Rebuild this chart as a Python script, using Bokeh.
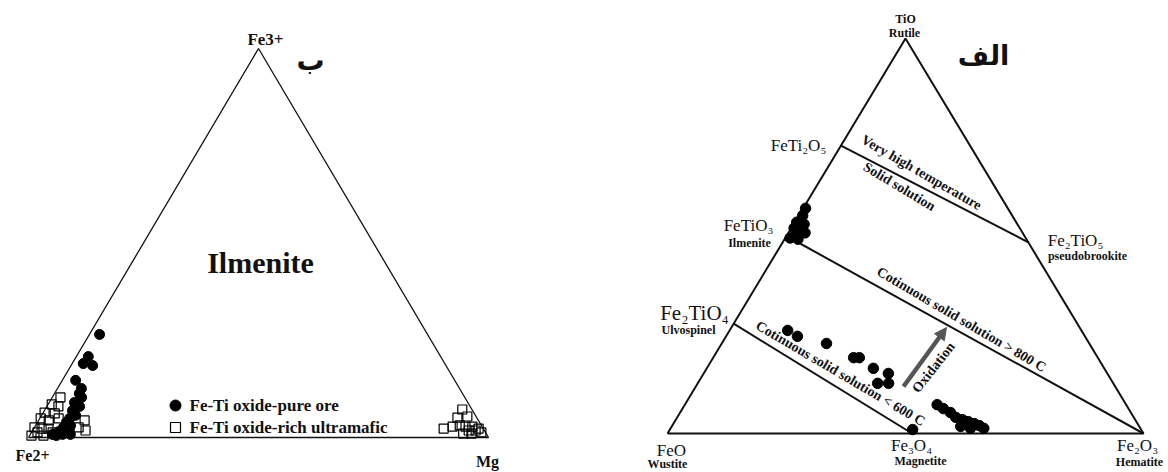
from bokeh.plotting import figure
from bokeh.models import Range1d, Label, Arrow, NormalHead
from bokeh.embed import file_html
from bokeh.resources import INLINE

# ---------------- DATA ----------------
# Left diagram: Fe2+ (left) - Fe3+ (top) - Mg (right); fractions of Fe3+ and Mg
ore_fe3 = [0.265, 0.208, 0.190, 0.185, 0.147, 0.126, 0.113, 0.103, 0.090, 0.080, 0.069,
           0.057, 0.049, 0.039, 0.031, 0.026, 0.018, 0.015, 0.008, 0.008, 0.005, 0.008]
ore_mg = [0.022, 0.026, 0.024, 0.047, 0.029, 0.052, 0.054, 0.064, 0.055, 0.071, 0.061,
          0.074, 0.065, 0.063, 0.076, 0.063, 0.076, 0.058, 0.070, 0.048, 0.058, 0.087]
ultra_fe3 = [0.103, 0.085, 0.080, 0.064, 0.062, 0.049, 0.044, 0.049, 0.044, 0.018, 0.026,
             0.026, 0.023, 0.005, 0.005, 0.013, 0.013, 0.023,
             0.072, 0.051, 0.054, 0.023, 0.028, 0.031, 0.028, 0.028, 0.023, 0.010, 0.010,
             0.013, 0.018, 0.018]
ultra_mg = [0.018, 0.008, 0.025, 0.003, 0.026, 0.002, 0.022, 0.041, 0.100, 0.115, 0.096,
            0.000, 0.017, 0.004, 0.030, 0.013, 0.046, 0.032,
            0.907, 0.907, 0.927, 0.891, 0.908, 0.922, 0.936, 0.951, 0.967, 0.940, 0.958,
            0.978, 0.963, 0.948]

# Right diagram: FeO (left) - TiO (top) - Fe2O3 (right); fractions of TiO and Fe2O3
sample_tio = [0.570, 0.552, 0.535, 0.530, 0.520, 0.510, 0.508, 0.495, 0.492,
              0.261, 0.246, 0.228, 0.192, 0.192, 0.165, 0.152, 0.127, 0.127,
              0.073, 0.063, 0.053, 0.041, 0.035, 0.030, 0.025, 0.020, 0.013, 0.018,
              0.013, 0.010]
sample_fe2o3 = [0.005, 0.008, 0.004, 0.022, 0.006, 0.018, 0.035, 0.010, 0.028,
                0.122, 0.150, 0.220, 0.295, 0.307, 0.350, 0.388, 0.378, 0.401,
                0.530, 0.548, 0.568, 0.585, 0.602, 0.617, 0.632, 0.645, 0.658, 0.607,
                0.630, 0.510]

# phases on the right diagram (TiO, Fe2O3)
phase_names = ["FeTi2O5", "FeTiO3", "Fe2TiO4", "Fe3O4", "Fe2TiO5", "Fe2O3"]
phase_tio = [0.729, 0.500, 0.278, 0.000, 0.484, 0.000]
phase_fe2o3 = [0.000, 0.000, 0.000, 0.514, 0.516, 1.000]
tie_lines = [("FeTi2O5", "Fe2TiO5"), ("FeTiO3", "Fe2O3"), ("Fe2TiO4", "Fe3O4")]

legend_labels = ["Fe-Ti oxide-pure ore", "Fe-Ti oxide-rich ultramafic"]

# ---------------- LAYOUT ----------------
W, H = 1168, 472


def D(X, Y):
    """picture pixel (from top-left) -> data coords"""
    return X, H - Y


LEFT_TRI = (D(258, 48), D(28, 437), D(488, 437))     # top, left, right
RIGHT_TRI = (D(905, 38), D(667, 433), D(1143, 433))


def tern(top, right, tri):
    (tx, ty), (lx, ly), (rx, ry) = tri
    left = 1 - top - right
    return top * tx + right * rx + left * lx, top * ty + right * ry + left * ly


def tern_many(tops, rights, tri):
    pts = [tern(a, b, tri) for a, b in zip(tops, rights)]
    return [q[0] for q in pts], [q[1] for q in pts]


p = figure(width=W, height=H, x_range=Range1d(0, W), y_range=Range1d(0, H),
           output_backend="svg", toolbar_location=None, min_border=0,
           x_axis_type=None, y_axis_type=None)
p.grid.visible = False
p.outline_line_color = None
p.background_fill_color = "white"

SERIF = "Liberation Serif"

# triangles
for tri, lw in ((LEFT_TRI, 1.3), (RIGHT_TRI, 2.0)):
    xs = [tri[1][0], tri[0][0], tri[2][0], tri[1][0]]
    ys = [tri[1][1], tri[0][1], tri[2][1], tri[1][1]]
    p.line(xs, ys, line_color="#111111", line_width=lw)

# tie lines
ph = {n: tern(a, b, RIGHT_TRI) for n, a, b in zip(phase_names, phase_tio, phase_fe2o3)}
for a, b in tie_lines:
    p.line([ph[a][0], ph[b][0]], [ph[a][1], ph[b][1]], line_color="#111111", line_width=2.0)

# left data
ox, oy = tern_many(ore_fe3, ore_mg, LEFT_TRI)
p.scatter(ox, oy, marker="circle", size=10, fill_color="black", line_color="black")
ux, uy = tern_many(ultra_fe3, ultra_mg, LEFT_TRI)
p.scatter(ux, uy, marker="square", size=9, fill_color=None, line_color="black", line_width=1.2)

# right data
sx, sy = tern_many(sample_tio, sample_fe2o3, RIGHT_TRI)
p.scatter(sx, sy, marker="circle", size=10.5, fill_color="black", line_color="black")

# legend (left)
lx, ly = D(175, 405)
p.scatter([lx], [ly], marker="circle", size=11, fill_color="black", line_color="black")
lx2, ly2 = D(175, 427)
p.scatter([lx2], [ly2], marker="square", size=10, fill_color=None, line_color="black", line_width=1.2)


def lab(text, X, Y, size, bold=True, font=SERIF, align="center", angle=0.0, color="#111111"):
    x, y = D(X, Y)
    p.add_layout(Label(x=x, y=y, text=text, text_font=font, text_font_size=f"{size}px",
                       text_font_style="bold" if bold else "normal", text_align=align,
                       text_baseline="middle", angle=angle, angle_units="deg",
                       text_color=color))


lab(legend_labels[0], 189, 405, 17, align="left")
lab(legend_labels[1], 189, 427, 17, align="left")

# left labels
lab("Fe3+", 265, 39, 17)
lab("ب", 310, 60, 28, font="DejaVu Sans")
lab("Ilmenite", 260, 262, 30)
lab("Fe2+", 32, 455, 16)
lab("Mg", 487, 461, 16)

# right labels
lab("TiO", 905, 18, 12)
lab("Rutile", 904, 32, 12)
lab("الف", 983, 55, 27, font="DejaVu Sans")
lab("FeTi₂O₅", 798, 145, 17, bold=False)
lab("FeTiO₃", 748, 225, 17, bold=False)
lab("Ilmenite", 749, 242, 12)
lab("Fe₂TiO₄", 694, 312, 21, bold=False)
lab("Ulvospinel", 688, 329, 12)
lab("FeO", 671, 450, 17, bold=False)
lab("Wustite", 667, 463, 12)
lab("Fe₃O₄", 911, 445, 17, bold=False)
lab("Magnetite", 920, 460, 12)
lab("Fe₂O₃", 1137, 445, 17, bold=False)
lab("Hematite", 1139, 461, 12)
lab("Fe₂TiO₅", 1075, 240, 17, bold=False)
lab("pseudobrookite", 1087, 255, 12)

lab("Very high temperature", 921, 172, 14, angle=-30)
lab("Solid solution", 899, 186, 14, angle=-31)
lab("Cotinuous solid solution > 800 C", 961, 319, 14, angle=-30.5)
lab("Cotinuous solid solution < 600 C", 840, 373, 14, angle=-30.5)
lab("Oxidation", 933, 367, 14, angle=52)

# oxidation arrow
ax0, ay0 = D(903, 386)
ax1, ay1 = D(946, 327)
p.add_layout(Arrow(end=NormalHead(size=12, fill_color="#555555", line_color="#555555"),
                   x_start=ax0, y_start=ay0, x_end=ax1, y_end=ay1,
                   line_width=4.5, line_color="#555555"))

open("out.html", "w").write(file_html(p, INLINE))
